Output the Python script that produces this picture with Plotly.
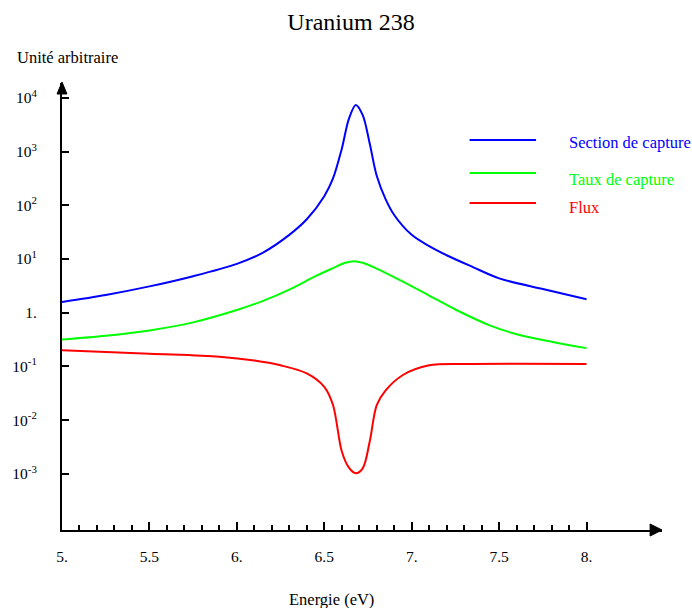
import plotly.graph_objects as go

# ---- data (log10 of the value in arbitrary units) ----
blue_E = [5.0, 5.25, 5.5, 5.75, 6.0, 6.15, 6.3, 6.4, 6.5, 6.55, 6.6, 6.64, 6.68,
          6.72, 6.76, 6.8, 6.85, 6.9, 7.0, 7.1, 7.2, 7.35, 7.5, 7.75, 8.0]
blue_log = [0.20, 0.33, 0.49, 0.68, 0.91, 1.12, 1.45, 1.74, 2.17, 2.50, 3.05, 3.60, 3.87,
            3.68, 3.15, 2.55, 2.12, 1.82, 1.45, 1.24, 1.07, 0.85, 0.64, 0.44, 0.25]

green_E = [5.0, 5.25, 5.5, 5.75, 6.0, 6.15, 6.3, 6.45, 6.55, 6.62, 6.67, 6.72, 6.8,
           6.93, 7.1, 7.25, 7.45, 7.6, 7.8, 8.0]
green_log = [-0.50, -0.43, -0.33, -0.18, 0.05, 0.22, 0.43, 0.68, 0.83, 0.93, 0.96, 0.93, 0.82,
             0.61, 0.32, 0.06, -0.24, -0.40, -0.54, -0.66]

red_E = [5.0, 5.5, 5.9, 6.1, 6.25, 6.4, 6.5, 6.55, 6.6, 6.64, 6.68, 6.72, 6.76, 6.8,
         6.85, 6.95, 7.1, 7.3, 7.6, 8.0]
red_log = [-0.70, -0.765, -0.82, -0.89, -0.98, -1.13, -1.38, -1.72, -2.58, -2.88, -2.99, -2.90,
           -2.40, -1.72, -1.45, -1.16, -0.98, -0.955, -0.95, -0.955]

x_tickvals = [5.0, 5.5, 6.0, 6.5, 7.0, 7.5, 8.0]
x_ticktext = ["5.", "5.5", "6.", "6.5", "7.", "7.5", "8."]
x_minor = [round(5.0 + 0.1 * i, 1) for i in range(31)]
y_tickvals = [1e-3, 1e-2, 1e-1, 1, 1e1, 1e2, 1e3, 1e4]
y_ticktext = ["10<sup>-3</sup>", "10<sup>-2</sup>", "10<sup>-1</sup>", "1.",
              "10<sup>1</sup>", "10<sup>2</sup>", "10<sup>3</sup>", "10<sup>4</sup>"]

series = [
    ("Section de capture", blue_E, blue_log, "rgb(0,0,255)"),
    ("Taux de capture", green_E, green_log, "rgb(0,255,0)"),
    ("Flux", red_E, red_log, "rgb(255,0,0)"),
]

FONT = "Liberation Serif"
W, H = 692, 608
L, R, T, B = 57, 30, 83, 78
PW, PH = W - L - R, H - T - B

def px2paper_x(px):
    return (px - L) / PW

def px2paper_y(py):
    return (H - B - py) / PH

fig = go.Figure()
for name, E, lg, col in series:
    fig.add_trace(go.Scatter(
        x=E, y=[10 ** v for v in lg], mode="lines", name=name,
        line=dict(color=col, width=2, shape="spline", smoothing=0.9),
        showlegend=False, hoverinfo="skip"))

shapes = []
# arrow heads
shapes.append(dict(type="path", xref="paper", yref="paper",
                   path=f"M 1 0 L {1-12/PW} {6/PH} L {1-12/PW} {-6/PH} Z",
                   fillcolor="black", line=dict(color="black", width=1)))
shapes.append(dict(type="path", xref="paper", yref="paper",
                   path=f"M 0 {1+1/PH} L {5/PW} {1-11/PH} L {-5/PW} {1-11/PH} Z",
                   fillcolor="black", line=dict(color="black", width=1)))

annotations = []
# legend (manual)
leg = [(140, 142), (173, 179), (203, 207)]
for (name, E, lg, col), (ly, ty) in zip(series, leg):
    shapes.append(dict(type="line", xref="paper", yref="paper",
                       x0=px2paper_x(468), x1=px2paper_x(535),
                       y0=px2paper_y(ly), y1=px2paper_y(ly),
                       line=dict(color=col, width=2)))
    annotations.append(dict(xref="paper", yref="paper", x=px2paper_x(566),
                            y=px2paper_y(ty), xanchor="left", yanchor="middle",
                            text=name, showarrow=False,
                            font=dict(family=FONT, size=16.5, color=col)))

annotations.append(dict(xref="paper", yref="paper", x=px2paper_x(10), y=px2paper_y(57),
                        xanchor="left", yanchor="middle", text="Unité arbitraire",
                        showarrow=False, font=dict(family=FONT, size=16.5, color="black")))
annotations.append(dict(xref="paper", yref="paper", x=px2paper_x(329), y=px2paper_y(599),
                        xanchor="center", yanchor="middle", text="Energie (eV)",
                        showarrow=False, font=dict(family=FONT, size=16.5, color="black")))

fig.update_layout(
    width=W, height=H, margin=dict(l=L, r=R, t=T, b=B),
    paper_bgcolor="white", plot_bgcolor="white",
    title=dict(text="Uranium 238", x=351 / W, xref="container", xanchor="center",
               y=1 - 22 / H, yref="container", yanchor="middle",
               font=dict(family=FONT, size=24, color="black")),
    font=dict(family=FONT, size=15.5, color="black"),
    shapes=shapes, annotations=annotations,
    xaxis=dict(range=[5.0, 5.0 + (W - R - L) / 176.3], showgrid=False, zeroline=False,
               showline=True, linecolor="black", linewidth=2,
               tickmode="array", tickvals=x_tickvals, ticktext=x_ticktext,
               ticks="inside", ticklen=8, tickwidth=1.5, tickcolor="black",
               ticklabelstandoff=11,
               minor=dict(tickmode="array", tickvals=x_minor, ticks="inside",
                          ticklen=5, tickwidth=1.5, tickcolor="black", showgrid=False),
               tickfont=dict(family=FONT, size=15.5, color="black")),
    yaxis=dict(type="log", range=[-4.047, 4.278], showgrid=False, zeroline=False,
               showline=True, linecolor="black", linewidth=2,
               tickmode="array", tickvals=y_tickvals, ticktext=y_ticktext,
               ticks="inside", ticklen=7, tickwidth=1.5, tickcolor="black",
               ticklabelstandoff=20,
               tickfont=dict(family=FONT, size=15.5, color="black")),
)

fig.write_html("out.html", config={"displayModeBar": False},
               post_script="document.body.style.margin='0px';")
